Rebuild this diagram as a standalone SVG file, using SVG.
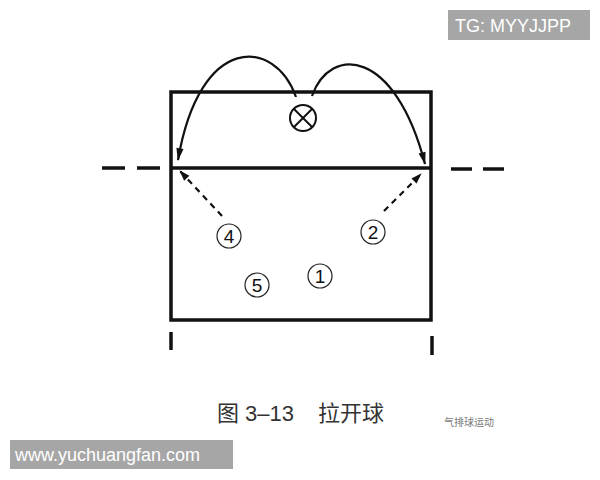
<svg xmlns="http://www.w3.org/2000/svg" width="600" height="480" viewBox="0 0 600 480">
<defs>
<style>
.ln{stroke:#111;fill:none;stroke-width:3.5}
.arc{stroke:#111;fill:none;stroke-width:2.2}
.dash{stroke:#111;fill:none;stroke-width:2.2;stroke-dasharray:6 5}
.pc{fill:#fff;stroke:#222;stroke-width:1.2}
.pt{font-family:"Liberation Sans",Arial,sans-serif;font-size:19px;fill:#111;text-anchor:middle}
.wm{font-family:"Liberation Sans",Arial,sans-serif;font-size:18px;fill:#fff}
</style>
<marker id="ah" viewBox="0 0 12 10" refX="11" refY="5" markerWidth="12" markerHeight="9" orient="auto" markerUnits="userSpaceOnUse">
<path d="M0,1 L12,5 L0,9 z" fill="#111"/>
</marker>
<marker id="ah2" viewBox="0 0 14 10" refX="13" refY="5" markerWidth="14" markerHeight="9" orient="auto" markerUnits="userSpaceOnUse">
<path d="M0,1 L14,5 L0,9 z" fill="#111"/>
</marker>
</defs>
<rect width="600" height="480" fill="#fff"/>
<g id="court">
<rect class="ln" x="171" y="92" width="260" height="228"/>
<line class="ln" x1="171" y1="168" x2="431" y2="168"/>
<line class="ln" x1="102" y1="168" x2="125" y2="168"/>
<line class="ln" x1="137" y1="168" x2="160" y2="168"/>
<line class="ln" x1="451" y1="169" x2="472" y2="169"/>
<line class="ln" x1="483" y1="169" x2="504" y2="169"/>
<line class="ln" x1="171" y1="332" x2="171" y2="350"/>
<line class="ln" x1="432" y1="336" x2="432" y2="355"/>
</g>
<g id="connectors">
<path class="arc" d="M296,97 C275,38 200,32 178,160" marker-end="url(#ah2)"/>
<path class="arc" d="M312,96 C330,45 395,48 425,164" marker-end="url(#ah2)"/>
<line class="dash" x1="222" y1="216" x2="180" y2="171" marker-end="url(#ah)"/>
<line class="dash" x1="384" y1="211" x2="421" y2="174" marker-end="url(#ah)"/>
</g>
<g id="ball">
<circle cx="303" cy="118" r="13" fill="#fff" stroke="#111" stroke-width="2"/>
<line x1="294" y1="109" x2="312" y2="127" stroke="#111" stroke-width="2"/>
<line x1="312" y1="109" x2="294" y2="127" stroke="#111" stroke-width="2"/>
</g>
<g id="p4"><circle class="pc" cx="229" cy="236" r="12"/><text class="pt" x="229" y="243">4</text></g>
<g id="p5"><circle class="pc" cx="257" cy="285" r="12"/><text class="pt" x="257" y="292">5</text></g>
<g id="p2"><circle class="pc" cx="373" cy="232" r="12"/><text class="pt" x="373" y="239">2</text></g>
<g id="p1"><circle class="pc" cx="320" cy="276" r="12"/><text class="pt" x="320" y="283">1</text></g>
<g id="caption">
<text x="217" y="421" font-family="'Liberation Sans','Noto Sans CJK SC',sans-serif" font-size="22" fill="#333">图 3–13</text>
<text x="318" y="421" font-family="'Noto Sans CJK SC',sans-serif" font-size="22" fill="#333">拉开球</text>
<text x="444" y="426" font-family="'Noto Sans CJK SC',sans-serif" font-size="10" fill="#777">气排球运动</text>
</g>
<g id="tg">
<rect x="448" y="10" width="142" height="30" fill="#a6a6a6"/>
<text class="wm" x="455" y="32">TG: MYYJJPP</text>
</g>
<g id="www">
<rect x="10" y="440" width="223" height="29" fill="#a6a6a6"/>
<text class="wm" x="15" y="461">www.yuchuangfan.com</text>
</g>
</svg>
